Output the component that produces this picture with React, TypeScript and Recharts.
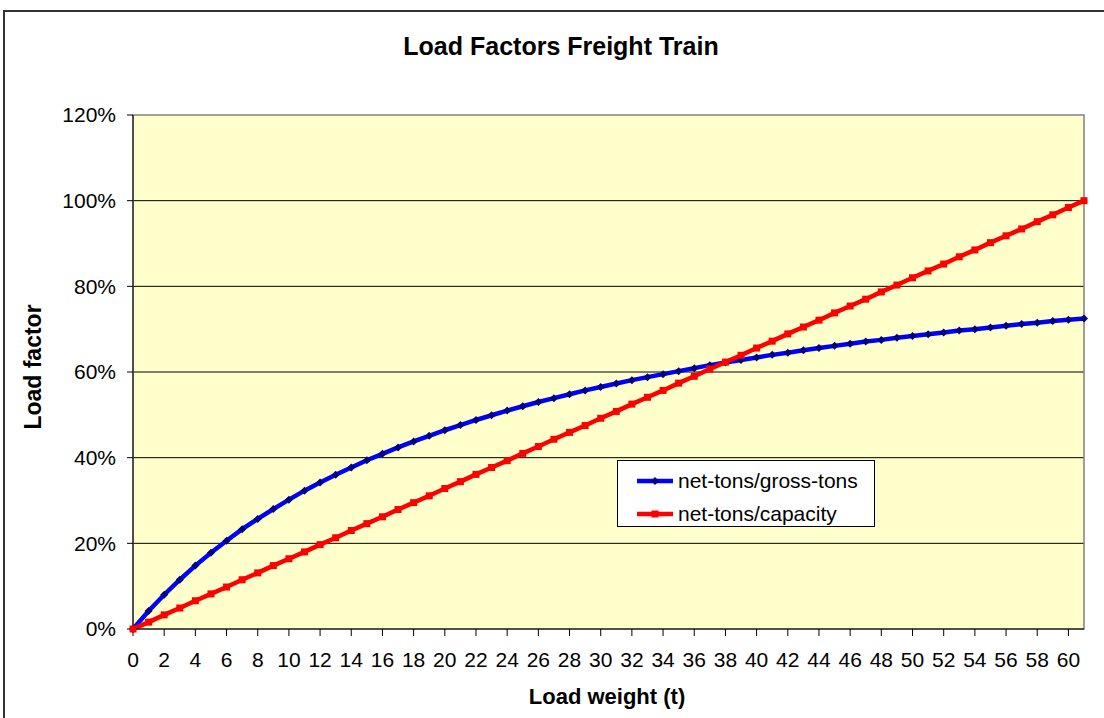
import React from "react";
import { LineChart, Line, XAxis, YAxis, CartesianGrid, ReferenceArea } from "recharts";

// load weight in tonnes
const loadWeight = [
  0, 1, 2, 3, 4, 5, 6, 7, 8, 9, 10, 11, 12, 13, 14, 15, 16, 17, 18, 19, 20,
  21, 22, 23, 24, 25, 26, 27, 28, 29, 30, 31, 32, 33, 34, 35, 36, 37, 38, 39, 40,
  41, 42, 43, 44, 45, 46, 47, 48, 49, 50, 51, 52, 53, 54, 55, 56, 57, 58, 59, 60, 61,
];

// net-tons / gross-tons, in %
const netGross = [
  0, 4.2, 8.0, 11.5, 14.8, 17.8, 20.6, 23.3, 25.7, 28.0, 30.2,
  32.3, 34.2, 36.0, 37.7, 39.4, 40.9, 42.4, 43.8, 45.1, 46.4,
  47.6, 48.8, 49.9, 51.0, 52.0, 53.0, 53.9, 54.8, 55.7, 56.5,
  57.3, 58.1, 58.8, 59.5, 60.2, 60.9, 61.6, 62.2, 62.8, 63.4,
  64.0, 64.5, 65.1, 65.6, 66.1, 66.6, 67.1, 67.5, 68.0, 68.4,
  68.8, 69.2, 69.7, 70.0, 70.4, 70.8, 71.2, 71.5, 71.9, 72.2, 72.5,
];

// net-tons / capacity, in %
const netCapacity = [
  0, 1.6, 3.3, 4.9, 6.6, 8.2, 9.8, 11.5, 13.1, 14.8, 16.4,
  18.0, 19.7, 21.3, 23.0, 24.6, 26.2, 27.9, 29.5, 31.1, 32.8,
  34.4, 36.1, 37.7, 39.3, 41.0, 42.6, 44.3, 45.9, 47.5, 49.2,
  50.8, 52.5, 54.1, 55.7, 57.4, 59.0, 60.7, 62.3, 63.9, 65.6,
  67.2, 68.9, 70.5, 72.1, 73.8, 75.4, 77.0, 78.7, 80.3, 82.0,
  83.6, 85.2, 86.9, 88.5, 90.2, 91.8, 93.4, 95.1, 96.7, 98.4, 100,
];

const xTicks = [0, 2, 4, 6, 8, 10, 12, 14, 16, 18, 20, 22, 24, 26, 28, 30, 32, 34, 36, 38, 40, 42, 44, 46, 48, 50, 52, 54, 56, 58, 60];
const yTicks = [0, 20, 40, 60, 80, 100, 120];

const seriesNames = ["net-tons/gross-tons", "net-tons/capacity"];

const data = loadWeight.map((w, i) => ({ w, gross: netGross[i], cap: netCapacity[i] }));

const FONT = '"Liberation Sans", Arial, sans-serif';

// small navy diamond like the Excel marker
const Diamond = (props: any) => {
  const { cx, cy } = props;
  if (cx == null || cy == null) return null;
  return <path d={`M${cx},${cy - 4} L${cx + 4},${cy} L${cx},${cy + 4} L${cx - 4},${cy} Z`} fill="#000080" />;
};

const Square = (props: any) => {
  const { cx, cy } = props;
  if (cx == null || cy == null) return null;
  return <rect x={cx - 3.5} y={cy - 3.5} width={7} height={7} fill="#FF0000" />;
};

export default function App() {
  return (
    <div style={{ position: "absolute", left: 0, top: 0, width: 1104, height: 718, overflow: "hidden", background: "#fff", fontFamily: FONT }}>
      <div style={{ position: "absolute", left: 3, top: 10, width: 1120, height: 740, border: "2px solid #333", boxSizing: "border-box" }} />
      <div style={{ position: "absolute", left: 0, width: 1122, top: 32, textAlign: "center", fontSize: 25, fontWeight: "bold" }}>
        Load Factors Freight Train
      </div>
      <div style={{ position: "absolute", left: 33, top: 367, transform: "translate(-50%, -50%) rotate(-90deg)", fontSize: 23, fontWeight: "bold", whiteSpace: "nowrap" }}>
        Load factor
      </div>
      <div style={{ position: "absolute", left: 607, top: 697, transform: "translate(-50%, -50%)", fontSize: 22, fontWeight: "bold", whiteSpace: "nowrap" }}>
        Load weight (t)
      </div>
      <div style={{ position: "absolute", left: 0, top: 0 }}>
        <LineChart width={1104} height={718} data={data} margin={{ top: 115, right: 20, bottom: 0, left: 0 }}>
          <CartesianGrid fill="#FFFFCC" stroke="#000" vertical={false} horizontalValues={[20, 40, 60, 80, 100]} />
          <ReferenceArea x1={0} x2={61} y1={0} y2={120} fill="none" stroke="#808080" strokeWidth={1.5} ifOverflow="visible" />
          <XAxis
            dataKey="w"
            type="number"
            domain={[0, 61]}
            ticks={xTicks}
            interval={0}
            height={89}
            stroke="#000"
            tickSize={7}
            tickMargin={16}
            tick={{ fontSize: 21, fill: "#000", fontFamily: FONT }}
          />
          <YAxis
            type="number"
            domain={[0, 120]}
            ticks={yTicks}
            width={133}
            stroke="#000"
            tickSize={6}
            tickMargin={11}
            tickFormatter={(v: number) => `${v}%`}
            tick={{ fontSize: 21, fill: "#000", fontFamily: FONT }}
          />
          <Line dataKey="gross" name={seriesNames[0]} stroke="#0000FF" strokeWidth={4.5} dot={<Diamond />} activeDot={false} isAnimationActive={false} />
          <Line dataKey="cap" name={seriesNames[1]} stroke="#FF0000" strokeWidth={4.5} dot={<Square />} activeDot={false} isAnimationActive={false} />
        </LineChart>
      </div>
      <div style={{ position: "absolute", left: 617, top: 460, width: 258, height: 67, background: "#fff", border: "1px solid #000", boxSizing: "border-box" }}>
        {seriesNames.map((name, i) => (
          <div key={name} style={{ position: "absolute", left: 18, top: 5 + i * 33, height: 30, display: "flex", alignItems: "center", fontSize: 21, whiteSpace: "nowrap" }}>
            <svg width={38} height={10} style={{ marginRight: 4 }}>
              <line x1={1} y1={5} x2={37} y2={5} stroke={i === 0 ? "#0000FF" : "#FF0000"} strokeWidth={4.5} />
              {i === 0 ? <path d="M19,1 L23,5 L19,9 L15,5 Z" fill="#000080" /> : <rect x={15.5} y={1.5} width={7} height={7} fill="#FF0000" />}
            </svg>
            {name}
          </div>
        ))}
      </div>
    </div>
  );
}
